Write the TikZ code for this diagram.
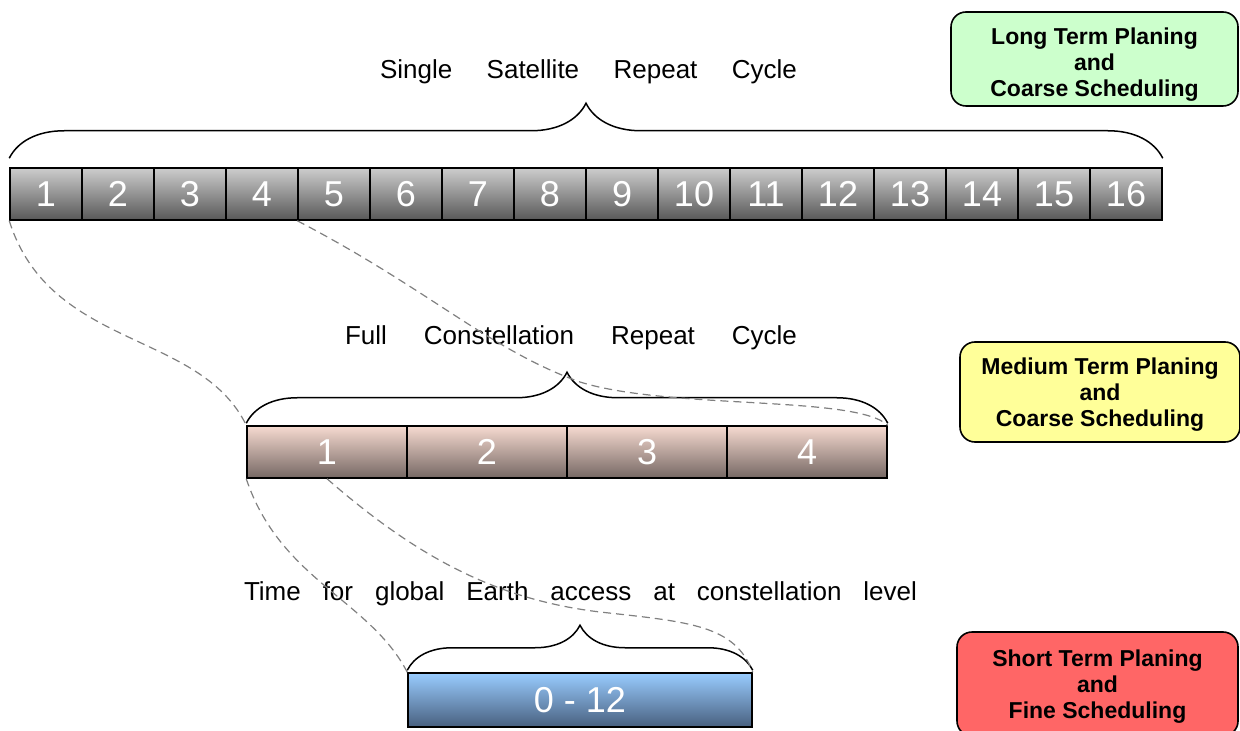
\documentclass[tikz,border=0pt]{standalone}
\usepackage{fontspec}
\setmainfont{Liberation Sans}
\usepackage{tikz}
\usetikzlibrary{decorations.pathreplacing}
\definecolor{greyTop}{RGB}{205,205,205}
\definecolor{greyBot}{RGB}{88,88,88}
\definecolor{roseTop}{RGB}{246,218,208}
\definecolor{roseBot}{RGB}{118,104,100}
\definecolor{skyTop}{RGB}{153,204,255}
\definecolor{skyBot}{RGB}{72,96,127}
\definecolor{longFill}{RGB}{204,255,204}
\definecolor{mediumFill}{RGB}{255,255,153}
\definecolor{shortFill}{RGB}{255,102,102}
\definecolor{linkGrey}{RGB}{128,128,128}

\begin{document}
\begin{tikzpicture}[x=0.5pt,y=-0.5pt,
  cell/.style={draw=black,line width=0.75pt,inner sep=0pt,minimum height=26pt,text=white,font=\fontsize{18}{21}\selectfont},
  topcell/.style={cell,minimum width=36pt,top color=greyTop,bottom color=greyBot},
  midcell/.style={cell,minimum width=80pt,top color=roseTop,bottom color=roseBot},
  lowcell/.style={cell,minimum width=172pt,minimum height=27pt,top color=skyTop,bottom color=skyBot},
  plan/.style={draw=black,line width=0.8pt,rounded corners=7.5pt,inner sep=0pt},
  plantext/.style={inner sep=0pt,align=center,font=\bfseries\fontsize{11.5}{13}\selectfont},
  caption/.style={inner sep=0pt,font=\fontsize{13}{15}\selectfont},
  brc/.style={decorate,decoration={brace,amplitude=#1,raise=1pt},line width=0.75pt},
  link/.style={draw=linkGrey,dash pattern=on 4pt off 2.5pt,line width=0.6pt}]
\clip (0,0) rectangle (1240,731);
\useasboundingbox (0,0) rectangle (1240,731);

\foreach \i in {1,...,16}
  \node[topcell] (t\i) at ({46+72*(\i-1)},194) {\i};
\foreach \i in {1,...,4}
  \node[midcell] (m\i) at ({327+160*(\i-1)},452) {\i};
\node[lowcell] (low) at (580,700) {0 - 12};

\draw[brc=27.5pt,decoration={raise=4.5pt}] (t1.north west) -- (t16.north east);
\draw[brc=25.5pt] (m1.north west) -- (m4.north east);
\draw[brc=22.5pt] (low.north west) -- (low.north east);

\node[caption] (capTop) at (588.5,72) {\makebox[208.5pt][s]{Single Satellite Repeat Cycle}};
\node[caption] (capMid) at (571,338) {\makebox[226pt][s]{Full Constellation Repeat Cycle}};
\node[caption] (capLow) at (580.5,594) {\makebox[336.5pt][s]{Time for global Earth access at constellation level}};

\node[plan,fill=longFill,minimum width=143.5pt,minimum height=47pt] (long) at (1094.5,59) {};
\node[plan,fill=mediumFill,minimum width=140pt,minimum height=50pt] (medium) at (1100,392) {};
\node[plan,fill=shortFill,minimum width=140.5pt,minimum height=52pt] (short) at (1097.5,684) {};
\node[plantext] (longTxt) at ([yshift=-3pt]long.center) {Long Term Planing\\and\\Coarse Scheduling};
\node[plantext] (mediumTxt) at ([yshift=-1.5pt]medium.center) {Medium Term Planing\\and\\Coarse Scheduling};
\node[plantext] (shortTxt) at ([yshift=-1.5pt]short.center) {Short Term Planing\\and\\Fine Scheduling};

\draw[link] (t1.south west) .. controls (50,350) and (200,330) .. (m1.north west);
\draw[link] (t5.south west) .. controls (430,290) and (490,350) .. (580,382)
  .. controls (670,410) and (855,395) .. (m4.north east);
\draw[link] (m1.south west) .. controls (280,580) and (370,600) .. (low.north west);
\draw[link] (m1.south) .. controls (420,560) and (500,600) .. (600,612)
  .. controls (690,622) and (735,625) .. (low.north east);
\end{tikzpicture}
\end{document}
